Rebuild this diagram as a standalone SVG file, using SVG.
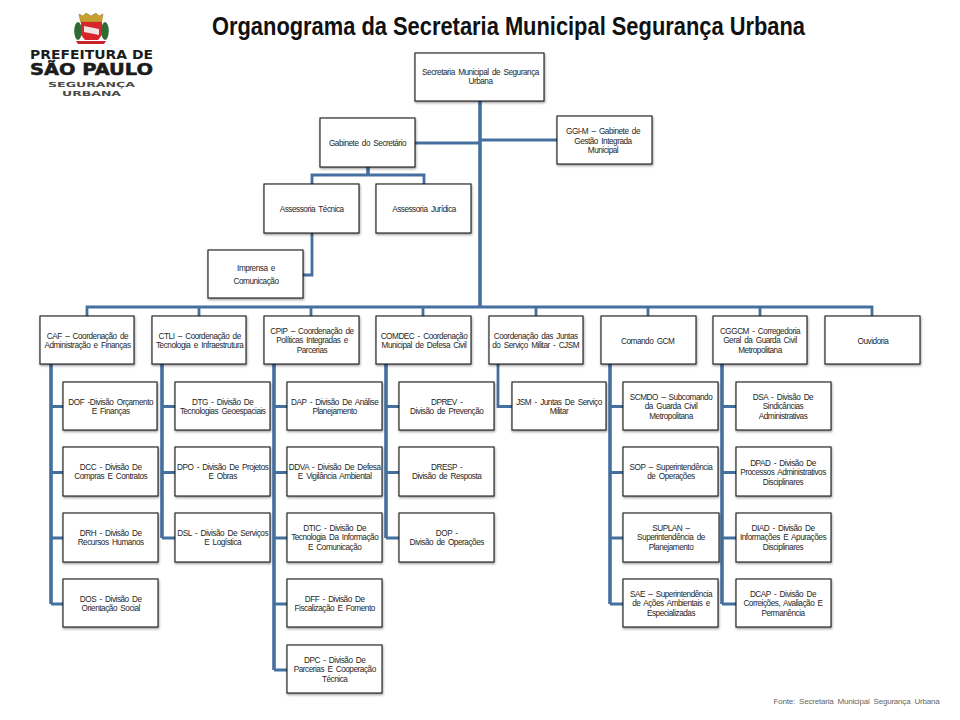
<svg xmlns="http://www.w3.org/2000/svg" width="960" height="720" viewBox="0 0 960 720">
<style>
.n{fill:#fff;stroke:#1a1a1a;stroke-width:1.1;filter:url(#s)}
.t{font-family:"Liberation Sans",Arial,sans-serif;font-size:8.200px;fill:#262626;text-anchor:middle;letter-spacing:-.46px;word-spacing:1.500px}
.c{fill:none;stroke:#44709f;stroke-width:2.800}
.k{stroke-width:3.600}
.title{font-family:"Liberation Sans",Arial,sans-serif;font-size:25px;font-weight:bold;fill:#111}
.l{font-family:"DejaVu Sans",sans-serif;font-weight:bold;fill:#1c1c1c}
</style>
<defs><filter id="s" x="-5%" y="-5%" width="112%" height="120%"><feDropShadow dx="0.6" dy="1.400" stdDeviation="1" flood-color="#000" flood-opacity=".4"/></filter></defs>
<rect width="960" height="720" fill="#fff"/>
<text class="title" x="212" y="35" textLength="593" lengthAdjust="spacingAndGlyphs">Organograma da Secretaria Municipal Segurança Urbana</text>
<g id="logo">
<path d="M79 14l4 2 3-3 5 3 5-3 3 3 4-2-1.500 8H80.500z" fill="#c9a02f" stroke="#8b6d20" stroke-width=".5"/>
<ellipse cx="78" cy="31" rx="3.800" ry="9" fill="#2f6b35"/>
<ellipse cx="105" cy="31" rx="3.800" ry="9" fill="#2f6b35"/>
<path d="M81 22h21v13l-4 5H85l-4-5z" fill="#d8252a"/>
<path d="M84 26l15 3v6l-15-3z" fill="#f2e4e4"/>
<path d="M76 41h30l-2 3H78z" fill="#c8242a"/>
<text class="l" x="30" y="59" font-size="12" textLength="123" lengthAdjust="spacingAndGlyphs">PREFEITURA DE</text>
<text class="l" x="30" y="75" font-size="15" textLength="123" lengthAdjust="spacingAndGlyphs" stroke="#1c1c1c" stroke-width=".5">SÃO PAULO</text>
<text class="l" x="48" y="87" font-size="7" textLength="87" lengthAdjust="spacingAndGlyphs" style="fill:#4a4a4a">SEGURANÇA</text>
<text class="l" x="62" y="96" font-size="7" textLength="59" lengthAdjust="spacingAndGlyphs" style="fill:#4a4a4a">URBANA</text>
</g>
<g id="connectors">
<path class="c k" d="M480 101V307"/>
<path class="c" d="M87 316V307H872V316M199 307V316M311 307V316M423 307V316M536 307V316M648 307V316M760 307V316"/>
<path class="c" d="M415 143H480M480 140H557"/>
<path class="c" d="M312 184V175H424V184"/>
<path class="c k" d="M368 167V175"/>
<path class="c" d="M312 233V275H303"/>
<path class="c k" d="M51 364V604"/><path class="c" d="M51 406.500H63M51 472.500H63M51 538H63M51 604H63"/>
<path class="c k" d="M162 364V538"/><path class="c" d="M162 406.500H175M162 472.500H175M162 538H175"/>
<path class="c k" d="M274 364V670"/><path class="c" d="M274 406.500H287M274 472.500H287M274 538H287M274 604H287M274 670H287"/>
<path class="c k" d="M386 364V538"/><path class="c" d="M386 406.500H399M386 472.500H399M386 538H399"/>
<path class="c" d="M498 364V406.500H512"/>
<path class="c k" d="M610 364V604"/><path class="c" d="M610 406.500H623M610 472.500H623M610 538H623M610 604H623"/>
<path class="c k" d="M722 364V604"/><path class="c" d="M722 406.500H736M722 472.500H736M722 538H736M722 604H736"/>
</g>
<g id="n-sec"><rect class="n" x="415" y="53" width="129" height="48"/><text class="t"><tspan x="480.500" y="75">Secretaria Municipal de Segurança</tspan><tspan x="480.500" y="84">Urbana</tspan></text></g>
<g id="n-gab"><rect class="n" x="320" y="118" width="95" height="49"/><text class="t" x="367.500" y="146">Gabinete do Secretário</text></g>
<g id="n-ggi"><rect class="n" x="557" y="116" width="95" height="48"/><text class="t"><tspan x="603" y="134">GGI-M – Gabinete de</tspan><tspan x="603" y="143.500">Gestão Integrada</tspan><tspan x="603" y="153">Municipal</tspan></text></g>
<g id="n-asst"><rect class="n" x="264" y="184" width="95" height="49"/><text class="t" x="311.700" y="212">Assessoria Técnica</text></g>
<g id="n-assj"><rect class="n" x="376" y="184" width="95" height="49"/><text class="t" x="424" y="212">Assessoria Jurídica</text></g>
<g id="n-imp"><rect class="n" x="208" y="250" width="95" height="48"/><text class="t"><tspan x="256" y="271">Imprensa e</tspan><tspan x="256" y="284">Comunicação</tspan></text></g>
<g id="n-caf"><rect class="n" x="40" y="316" width="94" height="48"/><text class="t"><tspan x="87.500" y="339">CAF – Coordenação de</tspan><tspan x="87.500" y="348">Administração e Finanças</tspan></text></g>
<g id="n-ctli"><rect class="n" x="152" y="316" width="94" height="48"/><text class="t"><tspan x="199.700" y="339">CTLI – Coordenação de</tspan><tspan x="199.700" y="348">Tecnologia e Infraestrutura</tspan></text></g>
<g id="n-cpip"><rect class="n" x="264" y="316" width="95" height="48"/><text class="t"><tspan x="312" y="334">CPIP – Coordenação de</tspan><tspan x="312" y="343">Políticas Integradas e</tspan><tspan x="312" y="353">Parcerias</tspan></text></g>
<g id="n-comdec"><rect class="n" x="376" y="316" width="95" height="48"/><text class="t"><tspan x="424" y="339">COMDEC - Coordenação</tspan><tspan x="424" y="348">Municipal de Defesa Civil</tspan></text></g>
<g id="n-cjsm"><rect class="n" x="489" y="316" width="94" height="48"/><text class="t"><tspan x="535.700" y="339">Coordenação das Juntas</tspan><tspan x="535.700" y="348">do Serviço Militar - CJSM</tspan></text></g>
<g id="n-gcm"><rect class="n" x="601" y="316" width="95" height="48"/><text class="t" x="647.700" y="344">Comando GCM</text></g>
<g id="n-cggcm"><rect class="n" x="713" y="316" width="94" height="48"/><text class="t"><tspan x="760" y="334">CGGCM - Corregedoria</tspan><tspan x="760" y="343">Geral da Guarda Civil</tspan><tspan x="760" y="353">Metropolitana</tspan></text></g>
<g id="n-ouv"><rect class="n" x="825" y="316" width="95" height="48"/><text class="t" x="873" y="344">Ouvidoria</text></g>
<g id="n-dof"><rect class="n" x="63" y="382" width="94" height="48"/><text class="t"><tspan x="110.700" y="405">DOF -Divisão Orçamento</tspan><tspan x="110.700" y="414">E Finanças</tspan></text></g>
<g id="n-dcc"><rect class="n" x="63" y="447" width="95" height="49"/><text class="t"><tspan x="110.700" y="470">DCC - Divisão De</tspan><tspan x="110.700" y="479">Compras E Contratos</tspan></text></g>
<g id="n-drh"><rect class="n" x="63" y="513" width="95" height="49"/><text class="t"><tspan x="110.700" y="536">DRH - Divisão De</tspan><tspan x="110.700" y="545">Recursos Humanos</tspan></text></g>
<g id="n-dos"><rect class="n" x="63" y="579" width="95" height="48"/><text class="t"><tspan x="110.700" y="602">DOS - Divisão De</tspan><tspan x="110.700" y="611">Orientação Social</tspan></text></g>
<g id="n-dtg"><rect class="n" x="175" y="382" width="95" height="48"/><text class="t"><tspan x="222.700" y="405">DTG - Divisão De</tspan><tspan x="222.700" y="414">Tecnologias Geoespaciais</tspan></text></g>
<g id="n-dpo"><rect class="n" x="175" y="447" width="95" height="49"/><text class="t"><tspan x="222.700" y="470">DPO - Divisão De Projetos</tspan><tspan x="222.700" y="479">E Obras</tspan></text></g>
<g id="n-dsl"><rect class="n" x="175" y="513" width="95" height="49"/><text class="t"><tspan x="222.700" y="536">DSL - Divisão De Serviços</tspan><tspan x="222.700" y="545">E Logística</tspan></text></g>
<g id="n-dap"><rect class="n" x="287" y="382" width="95" height="48"/><text class="t"><tspan x="334.700" y="405">DAP - Divisão De Análise</tspan><tspan x="334.700" y="414">Planejamento</tspan></text></g>
<g id="n-ddva"><rect class="n" x="287" y="447" width="95" height="49"/><text class="t"><tspan x="334.700" y="470">DDVA - Divisão De Defesa</tspan><tspan x="334.700" y="479">E Vigilância Ambiental</tspan></text></g>
<g id="n-dtic"><rect class="n" x="287" y="513" width="95" height="49"/><text class="t"><tspan x="334.700" y="531">DTIC - Divisão De</tspan><tspan x="334.700" y="540">Tecnologia Da Informação</tspan><tspan x="334.700" y="550">E Comunicação</tspan></text></g>
<g id="n-dff"><rect class="n" x="287" y="579" width="95" height="48"/><text class="t"><tspan x="334.700" y="602">DFF - Divisão De</tspan><tspan x="334.700" y="611">Fiscalização E Fomento</tspan></text></g>
<g id="n-dpc"><rect class="n" x="287" y="645" width="95" height="48"/><text class="t"><tspan x="334.700" y="663">DPC - Divisão De</tspan><tspan x="334.700" y="672">Parcerias E Cooperação</tspan><tspan x="334.700" y="682">Técnica</tspan></text></g>
<g id="n-dprev"><rect class="n" x="399" y="382" width="95" height="48"/><text class="t"><tspan x="446.700" y="405">DPREV -</tspan><tspan x="446.700" y="414">Divisão de Prevenção</tspan></text></g>
<g id="n-dresp"><rect class="n" x="399" y="447" width="95" height="49"/><text class="t"><tspan x="446.700" y="470">DRESP -</tspan><tspan x="446.700" y="479">Divisão de Resposta</tspan></text></g>
<g id="n-dop"><rect class="n" x="399" y="513" width="95" height="49"/><text class="t"><tspan x="446.700" y="536">DOP -</tspan><tspan x="446.700" y="545">Divisão de Operações</tspan></text></g>
<g id="n-jsm"><rect class="n" x="512" y="382" width="94" height="48"/><text class="t"><tspan x="559" y="405">JSM - Juntas De Serviço</tspan><tspan x="559" y="414">Militar</tspan></text></g>
<g id="n-scmdo"><rect class="n" x="623" y="382" width="95" height="48"/><text class="t"><tspan x="671" y="400">SCMDO – Subcomando</tspan><tspan x="671" y="409">da Guarda Civil</tspan><tspan x="671" y="419">Metropolitana</tspan></text></g>
<g id="n-sop"><rect class="n" x="623" y="447" width="95" height="49"/><text class="t"><tspan x="671" y="470">SOP – Superintendência</tspan><tspan x="671" y="479">de Operações</tspan></text></g>
<g id="n-suplan"><rect class="n" x="623" y="513" width="96" height="49"/><text class="t"><tspan x="671" y="531">SUPLAN –</tspan><tspan x="671" y="540">Superintendência de</tspan><tspan x="671" y="550">Planejamento</tspan></text></g>
<g id="n-sae"><rect class="n" x="623" y="579" width="95" height="48"/><text class="t"><tspan x="671" y="597">SAE – Superintendência</tspan><tspan x="671" y="606">de Ações Ambientais e</tspan><tspan x="671" y="616">Especializadas</tspan></text></g>
<g id="n-dsa"><rect class="n" x="736" y="382" width="95" height="48"/><text class="t"><tspan x="783" y="400">DSA - Divisão De</tspan><tspan x="783" y="409">Sindicâncias</tspan><tspan x="783" y="419">Administrativas</tspan></text></g>
<g id="n-dpad"><rect class="n" x="736" y="447" width="95" height="49"/><text class="t"><tspan x="783" y="466">DPAD - Divisão De</tspan><tspan x="783" y="475">Processos Administrativos</tspan><tspan x="783" y="485">Disciplinares</tspan></text></g>
<g id="n-diad"><rect class="n" x="736" y="513" width="95" height="49"/><text class="t"><tspan x="783" y="531">DIAD - Divisão De</tspan><tspan x="783" y="540">Informações E Apurações</tspan><tspan x="783" y="550">Disciplinares</tspan></text></g>
<g id="n-dcap"><rect class="n" x="736" y="579" width="95" height="48"/><text class="t"><tspan x="783" y="597">DCAP - Divisão De</tspan><tspan x="783" y="606">Correições, Avaliação E</tspan><tspan x="783" y="616">Permanência</tspan></text></g>
<text class="t" x="856.500" y="704" style="fill:#666;font-size:8px;letter-spacing:-.2px;word-spacing:2px">Fonte: Secretaria Municipal Segurança Urbana</text>
</svg>
